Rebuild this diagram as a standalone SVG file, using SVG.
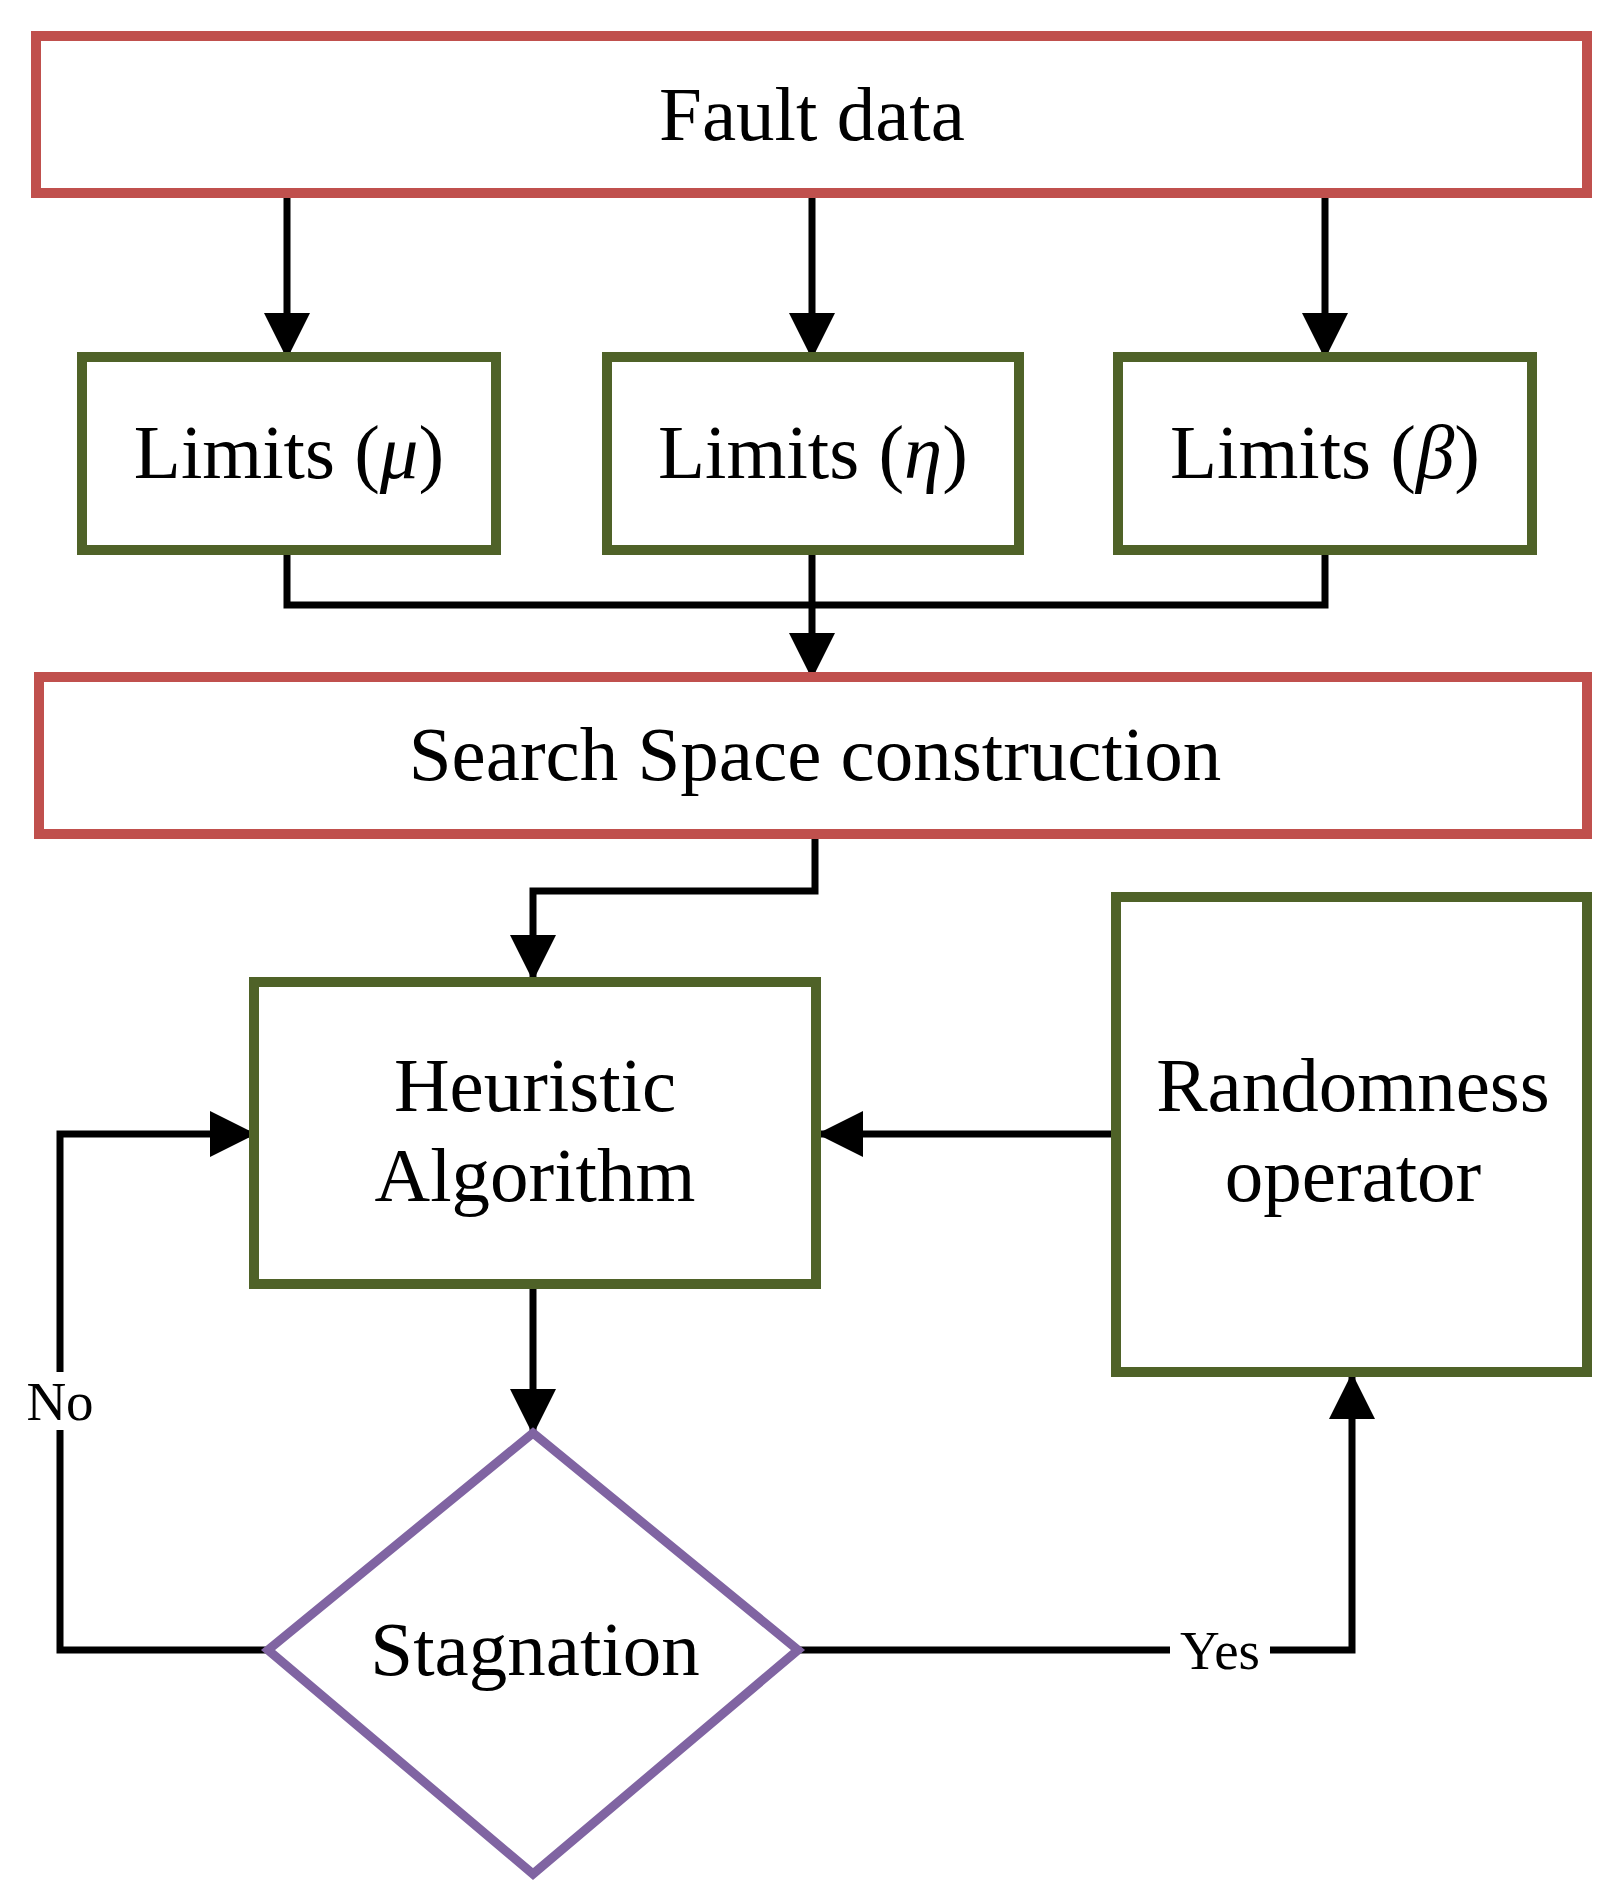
<svg xmlns="http://www.w3.org/2000/svg" width="1620" height="1894" viewBox="0 0 1620 1894">
<style>
.red{fill:#fff;stroke:#C0504D;stroke-width:10}
.grn{fill:#fff;stroke:#4F6228;stroke-width:10}
.pur{fill:#fff;stroke:#8064A2;stroke-width:9}
.t{font-family:"Liberation Serif","Times New Roman",serif;font-size:77px;text-anchor:middle;fill:#000}
.s{font-family:"Liberation Serif","Times New Roman",serif;font-size:55px;text-anchor:middle;fill:#000}
.c{fill:none;stroke:#000;stroke-width:7}
</style>
<defs>
<marker id="a" markerUnits="userSpaceOnUse" markerWidth="46" markerHeight="46" viewBox="0 0 46 46" refX="44" refY="23" orient="auto">
<path d="M0,0 L46,23 L0,46 Z" fill="#000"/>
</marker>
</defs>
<rect width="1620" height="1894" fill="#fff"/>
<g id="connectors">
<path class="c" d="M268,193 H287 V357" marker-end="url(#a)"/>
<path class="c" d="M812,193 V357" marker-end="url(#a)"/>
<path class="c" d="M1325,193 V357" marker-end="url(#a)"/>
<path class="c" d="M287,550 V605 H1325 V550"/>
<path class="c" d="M812,550 V677" marker-end="url(#a)"/>
<path class="c" d="M815,834 V891 H533 V979" marker-end="url(#a)"/>
<path class="c" d="M1116,1134 H819" marker-end="url(#a)"/>
<path class="c" d="M533,1284 V1433" marker-end="url(#a)"/>
<path class="c" d="M268,1650 H60 V1134 H254" marker-end="url(#a)"/>
<path class="c" d="M798,1650 H1352 V1375" marker-end="url(#a)"/>
<rect x="22" y="1372" width="76" height="58" fill="#fff"/>
<text class="s" x="60" y="1420">No</text>
<rect x="1170" y="1622" width="100" height="58" fill="#fff"/>
<text class="s" x="1220" y="1669">Yes</text>
</g>
<g id="fault"><rect class="red" x="36" y="36" width="1551" height="157"/><text class="t" x="812" y="140">Fault data</text></g>
<g id="lmu"><rect class="grn" x="82" y="357" width="414" height="193"/><text class="t" x="289" y="478">Limits (<tspan font-style="italic">μ</tspan>)</text></g>
<g id="leta"><rect class="grn" x="607" y="357" width="412" height="193"/><text class="t" x="813" y="478">Limits (<tspan font-style="italic">η</tspan>)</text></g>
<g id="lbeta"><rect class="grn" x="1118" y="357" width="414" height="193"/><text class="t" x="1325" y="478">Limits (<tspan font-style="italic">β</tspan>)</text></g>
<g id="search"><rect class="red" x="39" y="677" width="1548" height="157"/><text class="t" x="815" y="780">Search Space construction</text></g>
<g id="heur"><rect class="grn" x="254" y="982" width="562" height="302"/><text class="t" x="535" y="1111">Heuristic</text><text class="t" x="535" y="1201">Algorithm</text></g>
<g id="rand"><rect class="grn" x="1116" y="897" width="471" height="475"/><text class="t" x="1353" y="1111">Randomness</text><text class="t" x="1353" y="1201">operator</text></g>
<g id="stag"><path class="pur" d="M533,1433 L798,1650 L533,1874 L268,1650 Z"/><text class="t" x="535" y="1675">Stagnation</text></g>
</svg>
